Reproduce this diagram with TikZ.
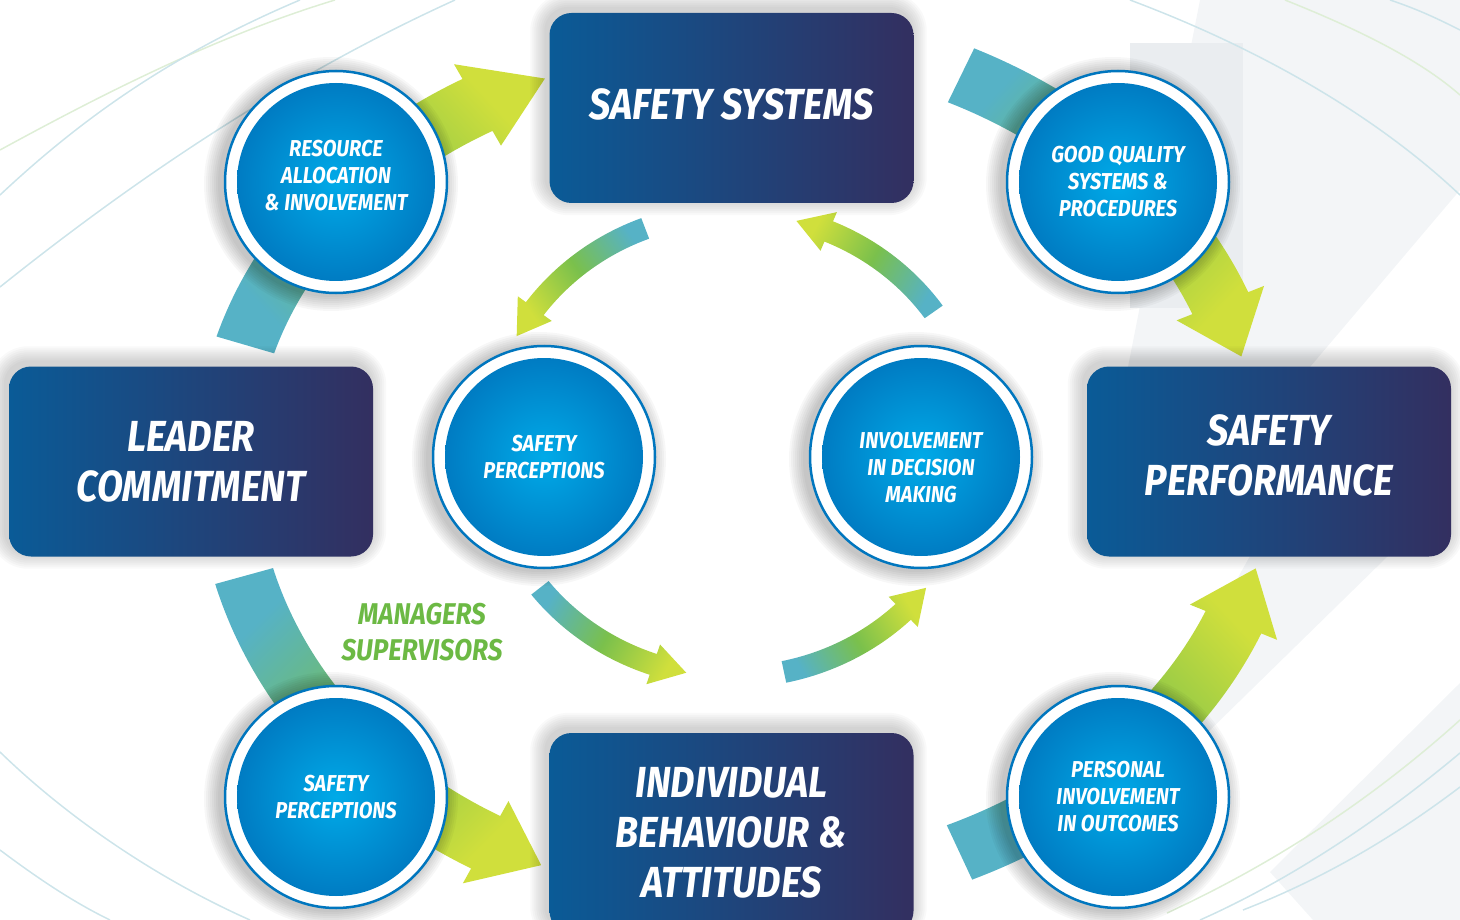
\documentclass[tikz,border=0pt]{standalone}
\usepackage{fontspec}
\newfontfamily\diafont{Fira Sans}[FakeStretch=0.87]
\usetikzlibrary{calc}
\newcommand\boxfont{\diafont\bfseries\itshape\fontsize{43.5}{50}\selectfont}
\newcommand\circfont{\diafont\bfseries\itshape\fontsize{23}{27}\selectfont}
\newcommand\mgrfont{\diafont\bfseries\itshape\fontsize{30}{36}\selectfont}
\definecolor{box_left}{RGB}{10,91,151}
\definecolor{box_right}{RGB}{51,47,96}
\definecolor{circ_edge}{RGB}{0,118,190}
\definecolor{circ_mid}{RGB}{0,170,232}
\definecolor{arr_teal}{RGB}{86,178,198}
\definecolor{arr_green}{RGB}{122,192,76}
\definecolor{arr_yell}{RGB}{208,223,60}
\definecolor{mgr_green}{RGB}{108,185,68}
\definecolor{line_teal}{RGB}{205,228,234}
\definecolor{line_green}{RGB}{222,238,214}
\definecolor{panel_gray}{RGB}{243,245,247}
\definecolor{panel_dark}{RGB}{234,237,240}
\pgfdeclarelayer{bg}
\pgfdeclarelayer{shadow}
\pgfsetlayers{bg,shadow,main}
% fat curved arrow on an ellipse:
% opts, centre, rx, ry, tail, head base, tip, half shaft, half head
\newcommand\fatarrow[9]{%
  \pgfmathsetmacro\rxo{#3+#8}\pgfmathsetmacro\ryo{#4+#8}%
  \pgfmathsetmacro\rxi{#3-#8}\pgfmathsetmacro\ryi{#4-#8}%
  \pgfmathsetmacro\rxh{#3+#9}\pgfmathsetmacro\ryh{#4+#9}%
  \pgfmathsetmacro\rxl{#3-#9}\pgfmathsetmacro\ryl{#4-#9}%
  \shade[#1] ($(#2)+({\rxo*cos(#5)},{\ryo*sin(#5)})$)
    arc[start angle=#5, end angle=#6, x radius=\rxo, y radius=\ryo]
    -- ($(#2)+({\rxh*cos(#6)},{\ryh*sin(#6)})$)
    -- ($(#2)+({#3*cos(#7)},{#4*sin(#7)})$)
    -- ($(#2)+({\rxl*cos(#6)},{\ryl*sin(#6)})$)
    -- ($(#2)+({\rxi*cos(#6)},{\ryi*sin(#6)})$)
    arc[start angle=#6, end angle=#5, x radius=\rxi, y radius=\ryi]
    -- cycle;}

\begin{document}
\begin{tikzpicture}[x=1pt,y=-1pt]
    \tikzstyle{panel}=[rectangle, rounded corners=22pt, minimum width=364pt, minimum height=190pt, left color=box_left, right color=box_right, text=white, align=center, font=\boxfont]
    \tikzstyle{disc}=[circle, minimum size=222pt, inner sep=0pt, draw=circ_edge, line width=2.5pt, fill=white, text=white, align=center, font=\circfont, path picture={\shade[inner color=circ_mid, outer color=circ_edge] (path picture bounding box.center) circle (99pt);}]
    \tikzstyle{mgrtext}=[text=mgr_green, align=center, font=\mgrfont]
    \tikzstyle{bigarrow}=[bottom color=arr_teal, top color=arr_yell, middle color=arr_green]
    \tikzstyle{faintteal}=[draw=line_teal, line width=1.5pt]
    \tikzstyle{faintgreen}=[draw=line_green, line width=1.5pt]

    \useasboundingbox (0,0) rectangle (1460,920);
    \coordinate (outer) at (730,460);
    \coordinate (inner) at (733,445);

    \node[panel, text depth=8pt] (sys) at (731.5,108) {SAFETY SYSTEMS};
    \node[panel] (lead) at (191,461.5) {LEADER\\COMMITMENT};
    \node[panel, text depth=12pt] (perf) at (1269,461.5) {SAFETY\\PERFORMANCE};
    \node[panel, minimum height=200pt] (indiv) at (731.5,833) {INDIVIDUAL\\BEHAVIOUR \&\\ATTITUDES};

    \node[disc, text depth=14pt] (res) at (336,182) {RESOURCE\\ALLOCATION\\\& INVOLVEMENT};
    \node[disc] (qual) at (1118,182) {GOOD QUALITY\\SYSTEMS \&\\PROCEDURES};
    \node[disc] (perc) at (544,457) {SAFETY\\PERCEPTIONS};
    \node[disc, text height=91pt] (dec) at (921,457) {INVOLVEMENT\\IN DECISION\\MAKING};
    \node[disc] (perc2) at (336,797) {SAFETY\\PERCEPTIONS};
    \node[disc] (pers) at (1118,797) {PERSONAL\\INVOLVEMENT\\IN OUTCOMES};

    \node[mgrtext] (mgr) at (422,632) {MANAGERS\\SUPERVISORS};

    \begin{pgfonlayer}{shadow}
    \foreach \n in {res,qual,perc,dec,perc2,pers}
      \foreach \k in {1,...,8}
        \fill[black, opacity=0.03] ([shift={(-5,2)}]\n.center) circle[radius={111+2*\k}];
    \foreach \n in {sys,lead,perf,indiv}
      \foreach \k in {1,...,8}
        \fill[black, opacity=0.025, rounded corners={(22+2*\k)*1pt}]
          ([shift={(-3-2*\k,-4-2*\k)}]\n.north west) rectangle ([shift={(-3+2*\k,-4+2*\k)}]\n.south east);
    \end{pgfonlayer}

    \begin{pgfonlayer}{bg}
    % backdrop
    \fill[panel_gray] (1200,0) -- (1460,0) -- (1460,190) -- (1310,367) -- (1128,367) -- cycle;
    \fill[panel_dark] (1130,43) rectangle (1243,308);
    \fill[panel_gray] (1250,556) -- (1388,556) -- (1205,735) -- (1150,735) -- cycle;
    \fill[panel_gray] (1460,683) -- (1270,872) -- (1313,920) -- (1460,920) -- cycle;
    \path[faintgreen] (0,150) .. controls (110,90) and (220,35) .. (335,0);
    \path[faintteal] (0,195) .. controls (80,120) and (170,55) .. (300,0);
    \path[faintteal] (0,287) .. controls (140,175) and (290,75) .. (455,0);
    \path[faintteal] (1130,0) .. controls (1250,45) and (1370,110) .. (1460,195);
    \path[faintgreen] (1285,0) .. controls (1360,30) and (1420,60) .. (1460,95);
    \path[faintteal] (1390,0) .. controls (1420,10) and (1440,20) .. (1460,30);
    \path[faintteal] (0,752) .. controls (70,820) and (160,880) .. (250,920);
    \path[faintteal] (0,850) .. controls (40,880) and (75,903) .. (110,920);
    \path[faintgreen] (1460,720) .. controls (1360,810) and (1260,870) .. (1167,913);
    \path[faintteal] (1460,753) .. controls (1380,820) and (1290,880) .. (1200,920);
    \path[faintteal] (1460,787) .. controls (1390,840) and (1320,880) .. (1243,910);
    % outer loop
    \fatarrow{bigarrow, shading angle=-47}{outer}{505}{410}{196.3}{240}{248.5}{30}{47}
    \fatarrow{bigarrow, shading angle=-133}{outer}{527}{428}{296}{338.5}{346}{30}{47}
    \fatarrow{bigarrow, shading angle=-47}{outer}{543}{433}{65}{22}{14.5}{30}{47}
    \fatarrow{bigarrow, shading angle=-135}{outer}{504}{437}{164.6}{119}{112}{30}{47}
    % inner loop
    \fatarrow{bigarrow, shading angle=125}{inner}{245}{232}{249}{216}{208}{11}{21}
    \fatarrow{bigarrow, shading angle=61}{inner}{245}{232}{325}{293}{285}{11}{21}
    \fatarrow{bigarrow, shading angle=-119}{inner}{245}{232}{142}{109}{101}{11}{21}
    \fatarrow{bigarrow, shading angle=-60}{inner}{245}{232}{78}{46}{38}{11}{21}
    \end{pgfonlayer}
\end{tikzpicture}
\end{document}
